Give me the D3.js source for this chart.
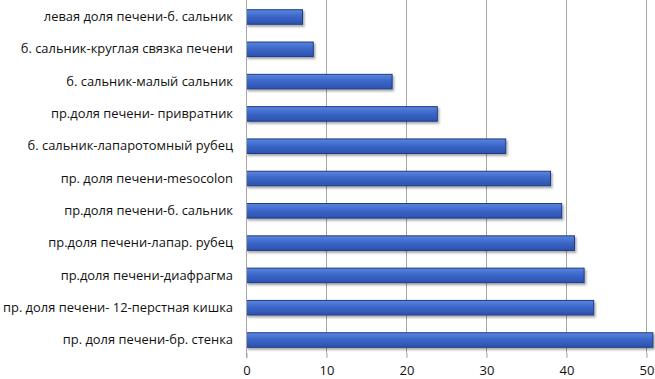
<!DOCTYPE html>
<html><head><meta charset="utf-8">
<script src="https://cdn.jsdelivr.net/npm/d3@7"></script>
<style>body{margin:0;background:#fff}svg{display:block}</style>
</head><body><svg id="c" width="655" height="379"></svg>
<script>
const categories = ["левая доля печени-б. сальник","б. сальник-круглая связка печени","б. сальник-малый сальник","пр.доля печени- привратник","б. сальник-лапаротомный рубец","пр. доля печени-mesocolon","пр.доля печени-б. сальник","пр.доля печени-лапар. рубец","пр.доля печени-диафрагма","пр. доля печени- 12-перстная кишка","пр. доля печени-бр. стенка"];
const values = [7.0, 8.35, 18.2, 23.85, 32.4, 38.0, 39.4, 41.0, 42.2, 43.4, 50.8];
const ticks = [0,10,20,30,40,50];

const svg = d3.select("#c");
const x = d3.scaleLinear().domain([0,50]).range([246.5,646.5]);
const y = d3.scaleBand().domain(categories).range([1,356]).paddingInner(0.55).paddingOuter(0.27);

const defs = svg.append("defs");
const g = defs.append("linearGradient").attr("id","bg").attr("x1",0).attr("y1",0).attr("x2",0).attr("y2",1);
g.append("stop").attr("offset","0%").attr("stop-color","#5a86df");
g.append("stop").attr("offset","45%").attr("stop-color","#3c67c9");
g.append("stop").attr("offset","100%").attr("stop-color","#2d52ad");
const f = defs.append("filter").attr("id","sh").attr("x","-5%").attr("y","-30%").attr("width","110%").attr("height","180%");
f.append("feDropShadow").attr("dx",1.5).attr("dy",2).attr("stdDeviation",1.2).attr("flood-color","#000").attr("flood-opacity",0.35);

// gridlines
svg.append("g").selectAll("line").data(ticks.slice(1)).join("line")
  .attr("x1",d=>x(d)).attr("x2",d=>x(d)).attr("y1",0).attr("y2",353)
  .attr("stroke","#a6a6a6").attr("stroke-width",1);

// bars
svg.append("g").selectAll("rect").data(categories).join("rect")
  .attr("x",x(0)).attr("y",d=>y(d)).attr("height",y.bandwidth())
  .attr("width",(d,i)=>x(values[i])-x(0))
  .attr("fill","url(#bg)").attr("stroke","#1e3c86").attr("stroke-width",1)
  .attr("filter","url(#sh)");

// y axis line
svg.append("line").attr("x1",x(0)).attr("x2",x(0)).attr("y1",0).attr("y2",358).attr("stroke","#a6a6a6");

// x ticks
const xa = svg.append("g").attr("transform","translate(0,353)")
  .call(d3.axisBottom(x).tickValues(ticks).tickSize(5).tickPadding(9));
xa.select(".domain").remove();
xa.selectAll("line").attr("stroke","#a6a6a6");
xa.selectAll("text").attr("y",22).attr("dy",0)
  .attr("font-family","Open Sans").attr("font-size","13px").attr("fill","#111");

// category labels
const ya = svg.append("g").attr("transform","translate(233,0)")
  .call(d3.axisLeft(y).tickSize(0).tickPadding(0));
ya.select(".domain").remove();
ya.selectAll("text").attr("font-family","Open Sans").attr("font-size","12.9px").attr("fill","#111");
</script></body></html>
